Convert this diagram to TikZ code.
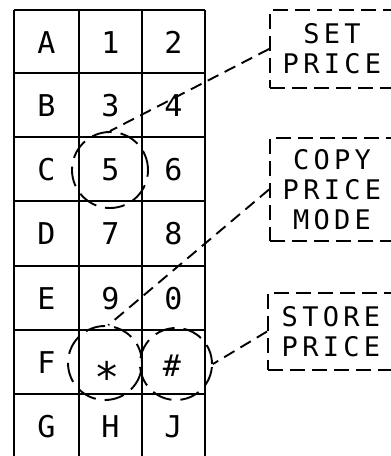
\documentclass[tikz,border=0pt]{standalone}
\usepackage{fontspec}
\newfontfamily\plotfont{DejaVu Sans Mono}
\newfontfamily\labelfont{DejaVu Sans Mono}[LetterSpace=16]
\begin{document}
\begin{tikzpicture}[x=1pt,y={(0pt,-1pt)},
  gridline/.style={line width=1.9pt},
  key/.style={font=\plotfont\fontsize{30}{30}\selectfont, inner sep=0pt, text height=22pt, text depth=0pt},
  ring/.style={circle, draw, line width=1.9pt, dash pattern=on 20pt off 9pt, inner sep=0pt},
  labelbox/.style={draw, line width=1.9pt, dash pattern=on 15pt off 7pt, align=center,
    font=\labelfont\fontsize{27}{30}\selectfont, inner sep=0pt, minimum width=124pt},
  leader/.style={line width=1.9pt, dash pattern=on 12pt off 7pt}]
\useasboundingbox (0,0) rectangle (391,456);
\clip (0,0) rectangle (391,456);
% grid
\foreach \x in {14,79,142,205} \draw[gridline] (\x,10) -- (\x,470);
\foreach \y in {10,73,137,201,266,330,394} \draw[gridline] (14,\y) -- (205,\y);
% keys
\node[key] (kA) at (46.5,42) {A};
\node[key] (k1) at (110.5,42) {1};
\node[key] (k2) at (173.5,42) {2};
\node[key] (kB) at (46.5,105) {B};
\node[key] (k3) at (110.5,105) {3};
\node[key] (k4) at (173.5,105) {4};
\node[key] (kC) at (46.5,169) {C};
\node[key] (k5) at (110.5,169) {5};
\node[key] (k6) at (173.5,169) {6};
\node[key] (kD) at (46.5,233.5) {D};
\node[key] (k7) at (110.5,233.5) {7};
\node[key] (k8) at (173.5,233.5) {8};
\node[key] (kE) at (46.5,298) {E};
\node[key] (k9) at (110.5,298) {9};
\node[key] (k0) at (173.5,298) {0};
\node[key] (kF) at (46.5,362) {F};
\node[key, font=\plotfont\fontsize{42}{42}\selectfont, yshift=-19pt] (kstar) at (107,362) {*};
\node[key] (khash) at (172,365) {\#};
\node[key] (kG) at (46.5,426) {G};
\node[key] (kH) at (110.5,426) {H};
\node[key] (kJ) at (173.5,426) {J};
% rings
\node[ring, minimum size=76pt] (c5) at (110,170) {};
\node[ring, minimum size=74pt] (cstar) at (105,363) {};
\node[ring, minimum size=72pt] (chash) at (176,364) {};
% label boxes
\node[labelbox, minimum height=78pt] (setbox) at (332,49) {SET\\PRICE};
\node[labelbox, minimum height=103pt] (copybox) at (332,189.5) {COPY\\PRICE\\MODE};
\node[labelbox, minimum height=77pt, minimum width=126pt] (storebox) at (331,331.5) {STORE\\PRICE};
% leaders
\draw[leader] (setbox.west) -- (c5.north);
\draw[leader] (copybox.west) -- (cstar.85);
\draw[leader] (storebox.west) -- (chash.east);
\end{tikzpicture}
\end{document}
